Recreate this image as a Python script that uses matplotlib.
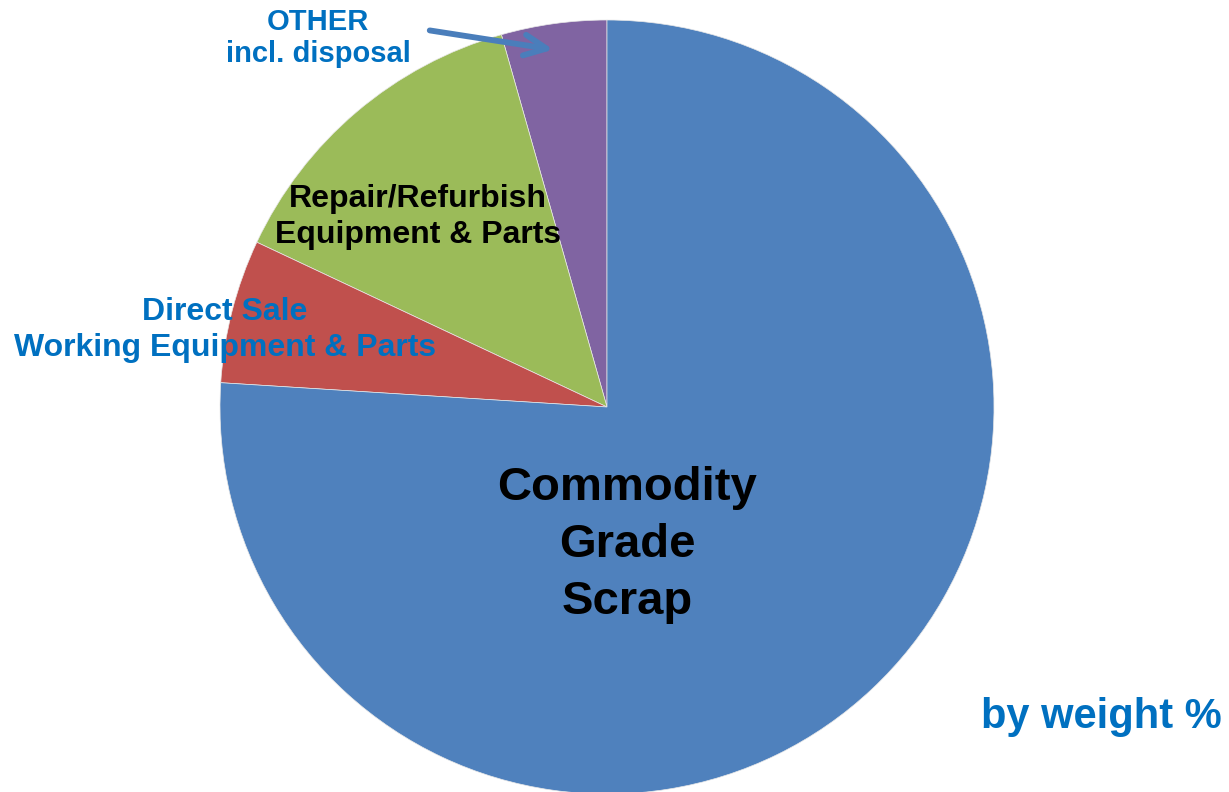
import matplotlib.pyplot as plt

# share by weight, counterclockwise from 12 o'clock
labels = ['OTHER\nincl. disposal', 'Repair/Refurbish\nEquipment & Parts',
          'Direct Sale\nWorking Equipment & Parts', 'Commodity\nGrade\nScrap']
values = [4.4, 13.6, 6, 76]
colors = ['#8064A2', '#9BBB59', '#C0504D', '#4F81BD']

W, H = 1229, 792
blue_txt = '#0070C0'

plt.rcParams['font.family'] = ['Liberation Sans', 'DejaVu Sans']

fig = plt.figure(figsize=(W / 100, H / 100), dpi=100)
ax = fig.add_axes([0, 0, 1, 1])

ax.pie(values, colors=colors, startangle=90, counterclock=True,
       center=(607, H - 407), radius=387,
       wedgeprops=dict(linewidth=0.5, edgecolor='#E8E8E8'))
ax.set_xlim(0, W)
ax.set_ylim(0, H)
ax.set_aspect('equal')
ax.axis('off')


def put(txt, x, y, size, color, ls=1.15):
    ax.text(x, H - y, txt, ha='center', va='center', fontsize=size,
            fontweight='bold', color=color, linespacing=ls)


put(labels[0], 318, 38, 21, blue_txt, 1.2)
put(labels[1], 418, 217, 23, 'black', 1.25)
put(labels[2], 225, 330, 23, blue_txt, 1.25)
put(labels[3], 627, 545, 34, 'black', 1.38)
put('by weight %', 1101, 717, 30, blue_txt)

# arrow pointing to the small OTHER slice
ax.annotate('', xy=(556, H - 50), xytext=(427, H - 30),
            arrowprops=dict(arrowstyle='->,head_length=1.6,head_width=0.75',
                            color='#4A7EBB', lw=4.2))

fig.savefig('out.png', dpi=100)
